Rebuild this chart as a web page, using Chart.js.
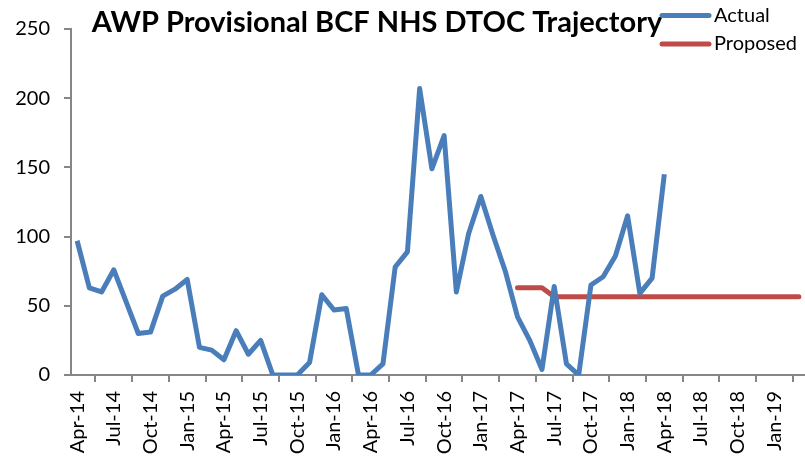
<!DOCTYPE html>
<html><head><meta charset="utf-8">
<script src="https://cdn.jsdelivr.net/npm/chart.js@4/dist/chart.umd.min.js"></script>
<style>html,body{margin:0;padding:0;background:#fff}#wrap{width:805px;height:457px;position:relative}</style>
</head><body><div id="wrap"><canvas id="c" width="805" height="457"></canvas></div>
<script>
const monthNames = ["Jan","Feb","Mar","Apr","May","Jun","Jul","Aug","Sep","Oct","Nov","Dec"];
const categories = [];
for (let i = 0; i < 60; i++) { const m = (3 + i) % 12; const y = 14 + Math.floor((3 + i) / 12); categories.push(monthNames[m] + "-" + y); }
const actual = [97,63,60,76,53,30,31,57,62,69,20,18,11,32,15,25,0,0,0,9,
  58,47,48,0,0,8,78,89,207,149,173,60,102,129,101,75,42,25,4,64,
  8,0,65,71,86,115,59,70,145];
const proposed = [null,null,null,null,null,null,null,null,null,null,null,null,null,null,null,null,null,null,null,null,
  null,null,null,null,null,null,null,null,null,null,null,null,null,null,null,null,63,63,63,56.5,
  56.5,56.5,56.5,56.5,56.5,56.5,56.5,56.5,56.5,56.5,56.5,56.5,56.5,56.5,56.5,56.5,56.5,56.5,56.5,56.5];
const yTicks = [0,50,100,150,200,250];
const titleText = "AWP Provisional BCF NHS DTOC Trajectory";
const FONT = "Lato, 'Open Sans', sans-serif";
const BLUE = "#4a7ebb", RED = "#be4b48", AXIS = "#868686";

const overlay = {
  id: "overlay",
  afterDraw(chart) {
    const ctx = chart.ctx;
    ctx.save();
    ctx.fillStyle = "#000";
    ctx.font = "bold 29px " + FONT;
    ctx.textBaseline = "alphabetic";
    ctx.textAlign = "center";
    ctx.fillText(titleText, 377, 32);
    ctx.textAlign = "left";
    ctx.textBaseline = "middle";
    ctx.font = "20px " + FONT;
    const items = [["Actual", BLUE, 15.5], ["Proposed", RED, 44]];
    for (const [t, c, y] of items) {
      ctx.strokeStyle = c; ctx.lineWidth = 5; ctx.lineCap = "round";
      ctx.beginPath(); ctx.moveTo(662, y); ctx.lineTo(709, y); ctx.stroke();
      ctx.fillText(t, 714, y);
    }
    ctx.restore();
  }
};

new Chart(document.getElementById("c"), {
  type: "line",
  data: {
    labels: categories,
    datasets: [
      { label: "Actual", data: actual, borderColor: BLUE, borderWidth: 5, pointRadius: 0, tension: 0, borderJoinStyle: "round", spanGaps: false },
      { label: "Proposed", data: proposed, borderColor: RED, borderWidth: 5, pointRadius: 0, tension: 0, borderJoinStyle: "round", borderCapStyle: "round" }
    ]
  },
  options: {
    responsive: false, animation: false,
    layout: { padding: { top: 29, right: 0, left: 0, bottom: 0 } },
    plugins: { legend: { display: false }, title: { display: false }, tooltip: { enabled: false } },
    scales: {
      x: {
        type: "category", offset: true,
        grid: { offset: true, drawOnChartArea: false, drawTicks: true, tickLength: 7, color: AXIS, lineWidth: 2 },
        border: { color: AXIS, width: 2 },
        ticks: {
          autoSkip: false, maxRotation: 90, minRotation: 90, color: "#000", padding: 9,
          font: { family: FONT, size: 20 },
          callback: function(v, i) { return i % 3 === 0 ? categories[i] : null; }
        },
        afterFit: s => { s.height = 82; s.paddingRight = 0; s.paddingLeft = 0; }
      },
      y: {
        min: 0, max: 250,
        afterBuildTicks: s => { s.ticks = yTicks.map(v => ({ value: v })); },
        grid: { drawOnChartArea: false, drawTicks: true, tickLength: 7, color: AXIS, lineWidth: 2 },
        border: { color: AXIS, width: 2 },
        ticks: { color: "#000", font: { family: FONT, size: 20 }, padding: 14 },
        afterFit: s => { s.width = 71; }
      }
    }
  },
  plugins: [overlay]
});
</script></body></html>
